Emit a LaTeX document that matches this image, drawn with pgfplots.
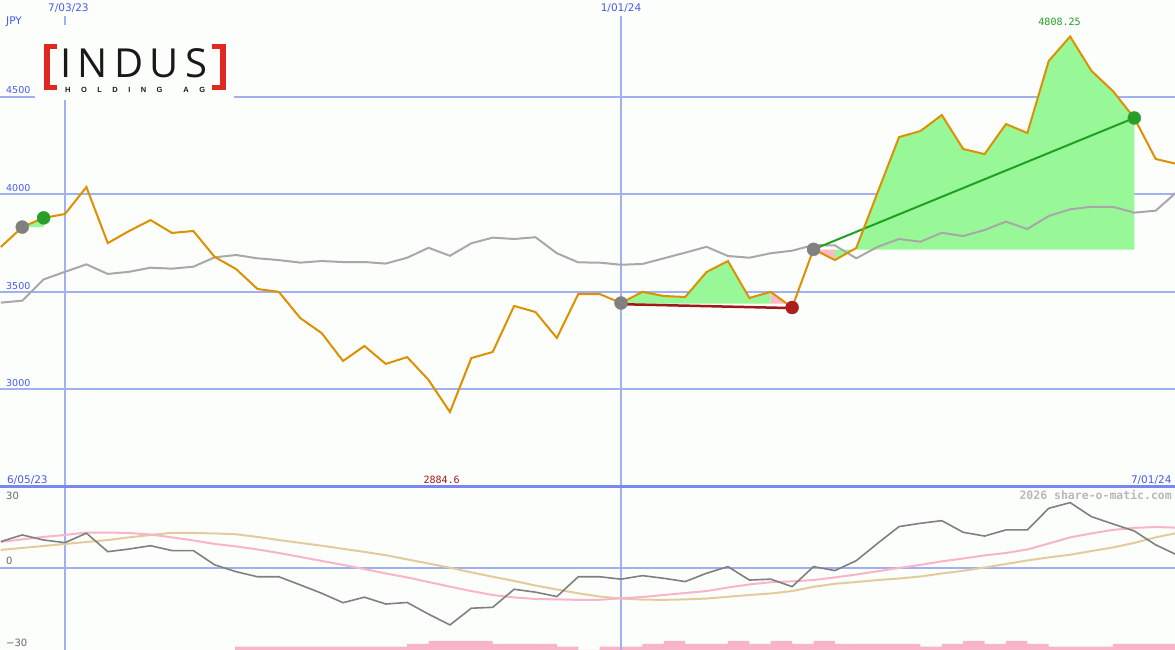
\documentclass[border=0pt]{standalone}
\usepackage{fontspec}
\setmainfont{DejaVu Sans}
\newfontfamily\monofont{DejaVu Sans Mono}
\newfontfamily\logofont{Open Sans}
\newfontfamily\subfont{Liberation Sans}
\usepackage{pgfplots}
\usepackage{pgfplotstable}
\pgfplotsset{compat=1.18}

\definecolor{bgc}{RGB}{252,254,252}
\definecolor{gridblue}{RGB}{160,176,240}
\definecolor{sepblue}{RGB}{120,136,240}
\definecolor{lblblue}{RGB}{72,88,240}
\definecolor{closeor}{RGB}{221,144,0}
\definecolor{magray}{RGB}{168,168,168}
\definecolor{fillgreen}{RGB}{152,248,152}
\definecolor{fillpink}{RGB}{255,184,200}
\definecolor{dotgray}{RGB}{128,128,128}
\definecolor{dotgreen}{RGB}{40,160,40}
\definecolor{dotred}{RGB}{170,30,30}
\definecolor{trendgreen}{RGB}{32,160,32}
\definecolor{trendred}{RGB}{160,24,24}
\definecolor{oscgray}{RGB}{128,128,128}
\definecolor{oscpink}{RGB}{248,180,200}
\definecolor{osctan}{RGB}{226,204,156}
\definecolor{volpink}{RGB}{248,180,200}
\definecolor{logored}{RGB}{224,40,32}

% weekly closes (JPY) and moving average; week 0 = 7/03/23
\pgfplotstableread{
w close ma
-3 3730 3445
-2 3832 3455
-1 3879 3564
0 3899 3603
1 4037 3641
2 3750 3592
3 3812 3603
4 3868 3624
5 3802 3619
6 3812 3629
7 3679 3677
8 3617 3689
9 3515 3672
10 3500 3663
11 3366 3650
12 3289 3658
13 3146 3653
14 3223 3653
15 3131 3645
16 3166 3675
17 3049 3726
18 2884.6 3685
19 3161 3749
20 3192 3778
21 3428 3771
22 3397 3780
23 3264 3698
24 3489 3651
25 3489 3650
26 3443 3639
27 3500 3643
28 3479 3672
29 3474 3701
30 3602 3731
31 3658 3684
32 3469 3675
33 3500 3698
34 3420 3711
35 3718 3740
36 3663 3738
37 3725 3672
38 4010 3731
39 4293 3771
40 4324 3757
41 4406 3803
42 4232 3786
43 4206 3817
44 4360 3860
45 4314 3822
46 4683 3889
47 4808.25 3923
48 4632 3936
49 4529 3936
50 4391 3906
51 4181 3916
52 4155 4013
}\pricetab

% oscillator panel
\pgfplotstableread{
w osc pk tan
-3 12.0 11.8 8.2
-2 15.0 13.0 9.1
-1 12.7 14.1 10.0
0 11.5 15.0 10.9
1 15.8 16.1 11.8
2 7.4 16.1 12.7
3 8.6 15.9 13.9
4 10.1 15.2 15.0
5 7.9 13.9 16.0
6 7.9 12.5 15.9
7 1.4 10.9 15.7
8 -1.7 9.8 15.3
9 -4.0 8.4 14.1
10 -4.0 6.8 12.7
11 -7.7 5.0 11.4
12 -11.5 3.2 10.1
13 -15.8 1.4 8.7
14 -13.3 -0.5 7.3
15 -16.4 -2.5 5.8
16 -15.7 -4.3 3.9
17 -21.0 -6.4 2.0
18 -25.9 -8.5 0.1
19 -18.3 -10.5 -2.0
20 -17.9 -12.3 -4.0
21 -9.7 -13.4 -5.9
22 -11.0 -14.1 -8.0
23 -13.0 -14.3 -9.8
24 -4.0 -14.5 -11.5
25 -4.0 -14.5 -13.0
26 -5.1 -13.8 -13.9
27 -3.5 -13.2 -14.4
28 -4.7 -12.3 -14.5
29 -6.2 -11.4 -14.3
30 -2.4 -10.5 -13.9
31 0.6 -8.9 -13.1
32 -5.5 -7.5 -12.3
33 -5.1 -6.5 -11.6
34 -8.5 -6.1 -10.5
35 0.6 -5.5 -8.6
36 -1.2 -4.3 -7.2
37 3.3 -3.0 -6.4
38 11.2 -1.5 -5.5
39 18.8 0.0 -4.8
40 20.3 1.4 -3.9
41 21.5 3.0 -2.5
42 16.2 4.3 -1.3
43 14.5 5.7 0.2
44 17.3 6.8 1.8
45 17.3 8.4 3.4
46 27.1 11.1 4.8
47 29.7 13.9 6.0
48 23.3 15.7 7.7
49 20.0 17.3 9.3
50 16.8 18.2 11.4
51 10.5 18.6 13.9
52 5.9 18.3 15.9
}\osctab

% volume strip (bar heights in pt)
\pgfplotstableread{
w h
7.95 3.3
16 6
17 9
20 6
23 3.3
24 0
25 3.3
27 6
28 9
29 6
31 9
32 6
33 9
34 6
35 9
36 6
40 3.3
41 6
42 9
43 6
44 9
45 6
46 3.3
49 6
52 6
}\voltab

\pgfplotsset{
  panel/.style={
    scale only axis, width=1175pt, anchor=south west,
    xmin=-3.04, xmax=51.906,
    axis line style={draw=none}, tick style={draw=none},
    xticklabels={}, yticklabels={},
    xtick={0}, extra x ticks={26}, extra x tick labels={},
    extra x tick style={grid style={gridblue, line width=1pt}},
    grid=major, major grid style={gridblue, line width=2pt},
  },
}
\tikzset{
  lbl/.style={inner sep=0pt, text=lblblue, font=\fontsize{9.5}{10}\selectfont},
}

\begin{document}
\begin{tikzpicture}
\fill[bgc] (0,0) rectangle (1175pt,650pt);
\useasboundingbox (0,0) rectangle (1175pt,650pt);

% volume strip
\begin{axis}[panel, at={(0pt,0pt)}, height=163pt, ymin=0, ymax=163,
  xtick=\empty, extra x ticks={}, ytick=\empty, grid=none]
  \addplot[const plot, fill=volpink, draw=none] table[x=w, y=h] {\voltab} \closedcycle;
\end{axis}

% oscillator panel
\begin{axis}[panel, at={(0pt,0pt)}, height=163pt, ymin=-37.3, ymax=36.8, ytick={0}]
  \addplot[osctan, line width=2pt] table[x=w, y=tan] {\osctab};
  \addplot[oscpink, line width=2pt] table[x=w, y=pk] {\osctab};
  \addplot[oscgray, line width=1.6pt] table[x=w, y=osc] {\osctab};
  \node[anchor=base west, inner sep=0pt, text=black!60, font=\fontsize{10}{10}\selectfont, xshift=6pt] at (axis cs:-3.04,30.9) {30};
  \node[anchor=base west, inner sep=0pt, text=black!60, font=\fontsize{10}{10}\selectfont, xshift=6pt] at (axis cs:-3.04,1.4) {0};
  \node[anchor=base west, inner sep=0pt, text=black!60, font=\fontsize{10}{10}\selectfont, xshift=6pt] at (axis cs:-3.04,-35.8) {−30};
  \node[anchor=base east, inner sep=0pt, text=black!28, font=\monofont\bfseries\fontsize{11.5}{12}\selectfont, xshift=-3pt] at (axis cs:51.906,30.9) {2026 share-o-matic.com};
\end{axis}

% price panel
\begin{axis}[panel, at={(0pt,163pt)}, height=487pt, ymin=2500.5, ymax=4995.4,
  ytick={3000,3500,4000,4500}]
  % trade areas
  \addplot[fill=fillgreen, draw=none] coordinates {(-2,3832) (-1,3879) (-1,3832)};
  \addplot[fill=fillgreen, draw=none] coordinates {(26,3440) (26,3443) (27,3500) (28,3479) (29,3474) (30,3602) (31,3658) (32,3469) (33,3500) (33,3440)};
  \addplot[fill=fillpink, draw=none] coordinates {(33,3500) (33,3440) (33.75,3440)};
  \addplot[fill=fillpink, draw=none] coordinates {(35,3717) (36,3717) (36,3663)};
  \addplot[fill=fillgreen, draw=none] coordinates {(36,3717) (36,3663) (37,3725) (38,4010) (39,4293) (40,4324) (41,4406) (42,4232) (43,4206) (44,4360) (45,4314) (46,4683) (47,4808.25) (48,4632) (49,4529) (50,4391) (50,3717)};
  % moving average
  \addplot[magray, line width=2pt] table[x=w, y=ma] {\pricetab};
  % trend lines
  \addplot[trendred, line width=2.5pt] coordinates {(26,3437) (34,3417)};
  \addplot[trendgreen, line width=2pt] coordinates {(35,3718) (50,4391)};
  % close
  \addplot[closeor, line width=2pt] table[x=w, y=close] {\pricetab};
  % trade markers
  \addplot[only marks, mark=*, mark size=6.5pt, color=dotgray] coordinates {(-2,3832) (26,3443) (35,3718)};
  \addplot[only marks, mark=*, mark size=6.5pt, color=dotgreen] coordinates {(-1,3879) (50,4391)};
  \addplot[only marks, mark=*, mark size=6.5pt, color=dotred] coordinates {(34,3420)};
  % labels
  \node[lbl, anchor=west, xshift=6pt, font=\fontsize{10.5}{10.5}\selectfont] at (axis cs:-3.04,4884) {JPY};
  \node[lbl, anchor=south west, xshift=6pt, yshift=2.5pt] at (axis cs:-3.04,4500) {4500};
  \node[lbl, anchor=south west, xshift=6pt, yshift=2.5pt] at (axis cs:-3.04,4000) {4000};
  \node[lbl, anchor=south west, xshift=6pt, yshift=2.5pt] at (axis cs:-3.04,3500) {3500};
  \node[lbl, anchor=south west, xshift=6pt, yshift=2.5pt] at (axis cs:-3.04,3000) {3000};
  \node[lbl, fill=bgc, minimum height=16pt, inner xsep=2pt, font=\fontsize{10.5}{10.5}\selectfont] at (axis cs:0.16,4954) {7/03/23};
  \node[lbl, fill=bgc, minimum height=16pt, inner xsep=2pt, font=\fontsize{10.5}{10.5}\selectfont] at (axis cs:26,4954) {1/01/24};
  \node[lbl, anchor=base west, xshift=7pt, font=\fontsize{10.5}{10.5}\selectfont] at (axis cs:-3.04,2519) {6/05/23};
  \node[lbl, anchor=base east, font=\fontsize{10.5}{10.5}\selectfont] at (axis cs:51.75,2519) {7/01/24};
  \node[anchor=base west, inner sep=0pt, text=trendred, font=\monofont\fontsize{10}{10}\selectfont] at (axis cs:16.755,2519) {2884.6};
  \node[anchor=base west, inner sep=0pt, text=trendgreen, font=\monofont\fontsize{10}{10}\selectfont] at (axis cs:45.51,4867) {4808.25};
\end{axis}

% panel separator
\draw[sepblue, line width=2.5pt] (0pt,163.3pt) -- (1175pt,163.3pt);

% logo
\fill[bgc] (35pt,550pt) rectangle (234pt,625pt);
\fill[logored] (43.5pt,560pt) rectangle (49.5pt,606pt);
\fill[logored] (43.5pt,601pt) rectangle (57pt,606pt);
\fill[logored] (43.5pt,560pt) rectangle (57pt,565pt);
\fill[logored] (219.5pt,560pt) rectangle (225.5pt,606pt);
\fill[logored] (212pt,601pt) rectangle (225.5pt,606pt);
\fill[logored] (212pt,560pt) rectangle (225.5pt,565pt);
\node[anchor=base west, inner sep=0pt, text=black!90, font=\logofont\fontsize{40}{40}\selectfont] at (60pt,572pt) {\makebox[147pt][s]{I\hfill N\hfill D\hfill U\hfill S}};
\node[anchor=base west, inner sep=0pt, text=black!90, font=\subfont\bfseries\fontsize{7.5}{7.5}\selectfont] at (65pt,557.5pt) {\makebox[140pt][s]{H\hfill O\hfill L\hfill D\hfill I\hfill N\hfill G\hfill\hfill A\hfill G}};
\end{tikzpicture}
\end{document}
